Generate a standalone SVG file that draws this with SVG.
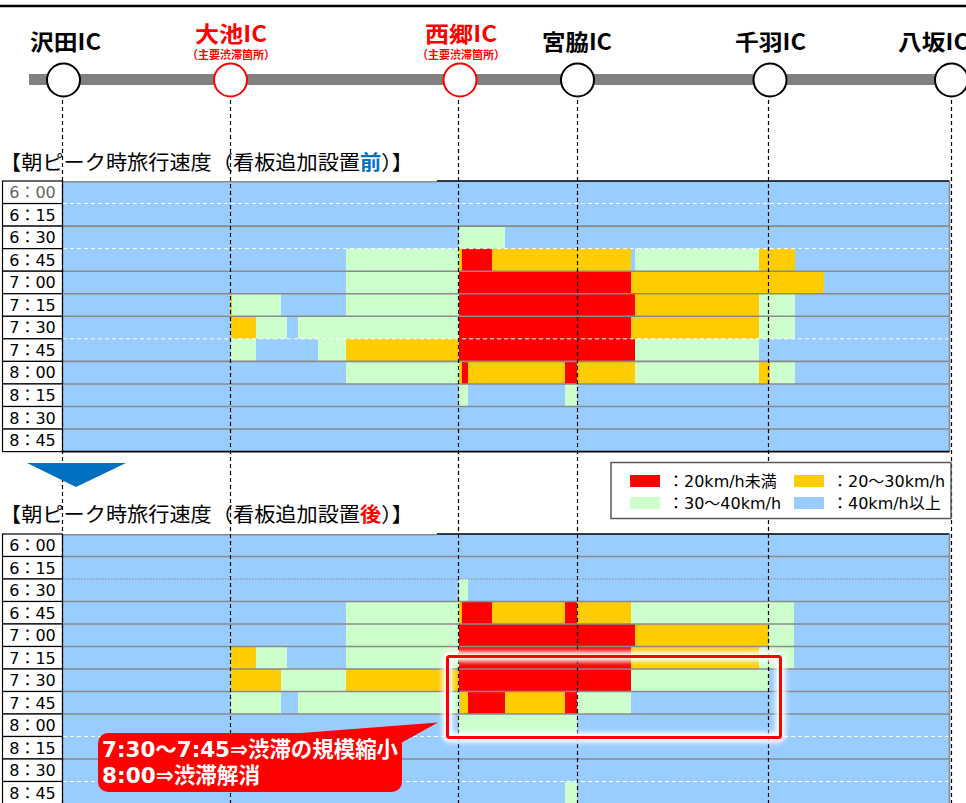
<svg xmlns="http://www.w3.org/2000/svg" width="966" height="803" viewBox="0 0 966 803">
<defs>
<style>
.b{fill:#99CCFF}.g{fill:#CCFFCC}.y{fill:#FFCC00}.r{fill:#FF0000}
.ic{font-family:"Noto Sans CJK JP",sans-serif;font-weight:bold;font-size:22px;text-anchor:middle}
.sub{font-family:"Noto Sans CJK JP",sans-serif;font-weight:bold;font-size:11.5px;fill:#FF0000;text-anchor:middle}
.node{fill:#fff;stroke:#000;stroke-width:2}
.node.red{stroke:#FF0000}
.vl{stroke:#000;stroke-width:1.2;stroke-dasharray:4 3;fill:none}
.sep{stroke:#8a8a8a;stroke-width:1.6}
.sepw{stroke:#fff;stroke-width:1;stroke-dasharray:4 3}
.cell{fill:#fff;stroke:#000;stroke-width:1.2}
.tm{font-family:"DejaVu Sans","Noto Sans CJK JP",sans-serif;font-size:16px;text-anchor:middle;fill:#000}
.ttl{font-family:"Noto Sans CJK JP",sans-serif;font-size:20px;fill:#000}
.lg{font-family:"DejaVu Sans","Noto Sans CJK JP",sans-serif;font-size:16px;fill:#000}
.co{font-family:"DejaVu Sans","Noto Sans CJK JP",sans-serif;font-weight:bold;font-size:22px;fill:#fff}
</style>
<filter id="glow" x="-10%" y="-30%" width="120%" height="160%"><feGaussianBlur stdDeviation="2.5"/></filter>
</defs>
<rect width="966" height="803" fill="#fff"/>
<line x1="0" y1="6" x2="966" y2="6" stroke="#000" stroke-width="2.5"/>
<rect x="29" y="74" width="937" height="11" fill="#808080"/>

<!-- Top chart -->
<g id="chart-before">
<rect class="b" x="63" y="181" width="886" height="270.6"/>
<rect class="g" x="459" y="226.1" width="46" height="22.55"/>
<g transform="translate(0,248.65)">
<rect class="g" x="346" y="0" width="113" height="22.55"/><rect class="y" x="459" y="0" width="3" height="22.55"/><rect class="r" x="462" y="0" width="30" height="22.55"/><rect class="y" x="492" y="0" width="139" height="22.55"/><rect class="g" x="635" y="0" width="124" height="22.55"/><rect class="y" x="759" y="0" width="36" height="22.55"/>
</g>
<g transform="translate(0,271.2)">
<rect class="g" x="346" y="0" width="113" height="22.55"/><rect class="r" x="459" y="0" width="172" height="22.55"/><rect class="y" x="631" y="0" width="193" height="22.55"/>
</g>
<g transform="translate(0,293.75)">
<rect class="y" x="230" y="0" width="2" height="22.55"/><rect class="g" x="232" y="0" width="49" height="22.55"/><rect class="g" x="346" y="0" width="113" height="22.55"/><rect class="r" x="459" y="0" width="176" height="22.55"/><rect class="y" x="635" y="0" width="124" height="22.55"/><rect class="g" x="759" y="0" width="36" height="22.55"/>
</g>
<g transform="translate(0,316.3)">
<rect class="y" x="231" y="0" width="25" height="22.55"/><rect class="g" x="256" y="0" width="31" height="22.55"/><rect class="g" x="298" y="0" width="161" height="22.55"/><rect class="r" x="459" y="0" width="172" height="22.55"/><rect class="y" x="631" y="0" width="128" height="22.55"/><rect class="g" x="759" y="0" width="36" height="22.55"/>
</g>
<g transform="translate(0,338.85)">
<rect class="g" x="231" y="0" width="25" height="22.55"/><rect class="g" x="318" y="0" width="28" height="22.55"/><rect class="y" x="346" y="0" width="113" height="22.55"/><rect class="r" x="459" y="0" width="176" height="22.55"/><rect class="g" x="635" y="0" width="124" height="22.55"/>
</g>
<g transform="translate(0,361.4)">
<rect class="g" x="346" y="0" width="113" height="22.55"/><rect class="y" x="459" y="0" width="3" height="22.55"/><rect class="r" x="462" y="0" width="6" height="22.55"/><rect class="y" x="468" y="0" width="97" height="22.55"/><rect class="r" x="565" y="0" width="12" height="22.55"/><rect class="y" x="577" y="0" width="58" height="22.55"/><rect class="g" x="635" y="0" width="124" height="22.55"/><rect class="y" x="759" y="0" width="11" height="22.55"/><rect class="g" x="770" y="0" width="25" height="22.55"/>
</g>
<g transform="translate(0,383.95)">
<rect class="g" x="459" y="0" width="9" height="22.55"/><rect class="g" x="565" y="0" width="12" height="22.55"/>
</g>
<line class="sepw" x1="63" y1="203.55" x2="949" y2="203.55"/>
<line class="sep" x1="63" y1="226.1" x2="949" y2="226.1"/>
<line class="sepw" x1="63" y1="248.65" x2="949" y2="248.65"/>
<line class="sep" x1="63" y1="271.2" x2="949" y2="271.2"/>
<line class="sep" x1="63" y1="293.75" x2="949" y2="293.75"/>
<line class="sep" x1="63" y1="316.3" x2="949" y2="316.3"/>
<line class="sepw" x1="63" y1="338.85" x2="949" y2="338.85"/>
<line class="sep" x1="63" y1="361.4" x2="949" y2="361.4"/>
<line class="sep" x1="63" y1="383.95" x2="949" y2="383.95"/>
<line class="sep" x1="63" y1="406.5" x2="949" y2="406.5"/>
<line class="sep" x1="63" y1="429.05" x2="949" y2="429.05"/>
<line x1="62" y1="181.8" x2="437" y2="181.8" stroke="#8a8a8a" stroke-width="1.6"/>
<line x1="437" y1="181" x2="949.5" y2="181" stroke="#000" stroke-width="1.6"/>
<line x1="949.5" y1="181" x2="949.5" y2="451.6" stroke="#8a8a8a" stroke-width="1.6"/>
<line x1="62" y1="451.6" x2="949.5" y2="451.6" stroke="#000" stroke-width="1.6"/>
<g>
<rect class="cell" x="2.5" y="181" width="60" height="22.55"/><rect class="cell" x="2.5" y="203.55" width="60" height="22.55"/><rect class="cell" x="2.5" y="226.1" width="60" height="22.55"/><rect class="cell" x="2.5" y="248.65" width="60" height="22.55"/><rect class="cell" x="2.5" y="271.2" width="60" height="22.55"/><rect class="cell" x="2.5" y="293.75" width="60" height="22.55"/><rect class="cell" x="2.5" y="316.3" width="60" height="22.55"/><rect class="cell" x="2.5" y="338.85" width="60" height="22.55"/><rect class="cell" x="2.5" y="361.4" width="60" height="22.55"/><rect class="cell" x="2.5" y="383.95" width="60" height="22.55"/><rect class="cell" x="2.5" y="406.5" width="60" height="22.55"/><rect class="cell" x="2.5" y="429.05" width="60" height="22.55"/>
<text class="tm" x="32.5" y="198" style="fill:#666">6：00</text>
<text class="tm" x="32.5" y="220.5">6：15</text>
<text class="tm" x="32.5" y="243">6：30</text>
<text class="tm" x="32.5" y="265.6">6：45</text>
<text class="tm" x="32.5" y="288.2">7：00</text>
<text class="tm" x="32.5" y="310.7">7：15</text>
<text class="tm" x="32.5" y="333.3">7：30</text>
<text class="tm" x="32.5" y="355.8">7：45</text>
<text class="tm" x="32.5" y="378.4">8：00</text>
<text class="tm" x="32.5" y="400.9">8：15</text>
<text class="tm" x="32.5" y="423.5">8：30</text>
<text class="tm" x="32.5" y="446">8：45</text>
</g>
</g>

<!-- Bottom chart -->
<g id="chart-after">
<rect class="b" x="63" y="534" width="886" height="270"/>
<rect class="g" x="459" y="579" width="9" height="22.5"/>
<g transform="translate(0,601.5)">
<rect class="g" x="346" y="0" width="113" height="22.5"/><rect class="y" x="459" y="0" width="3" height="22.5"/><rect class="r" x="462" y="0" width="30" height="22.5"/><rect class="y" x="492" y="0" width="73" height="22.5"/><rect class="r" x="565" y="0" width="12" height="22.5"/><rect class="y" x="577" y="0" width="54" height="22.5"/><rect class="g" x="631" y="0" width="163" height="22.5"/>
</g>
<g transform="translate(0,624)">
<rect class="g" x="346" y="0" width="113" height="22.5"/><rect class="r" x="459" y="0" width="176" height="22.5"/><rect class="y" x="635" y="0" width="134" height="22.5"/><rect class="g" x="769" y="0" width="25" height="22.5"/>
</g>
<g transform="translate(0,646.5)">
<rect class="y" x="231" y="0" width="25" height="22.5"/><rect class="g" x="256" y="0" width="31" height="22.5"/><rect class="g" x="346" y="0" width="113" height="22.5"/><rect class="r" x="459" y="0" width="172" height="22.5"/><rect class="y" x="631" y="0" width="128" height="22.5"/><rect class="g" x="759" y="0" width="35" height="22.5"/>
</g>
<g transform="translate(0,669)">
<rect class="y" x="231" y="0" width="50" height="22.5"/><rect class="g" x="281" y="0" width="65" height="22.5"/><rect class="y" x="346" y="0" width="113" height="22.5"/><rect class="r" x="459" y="0" width="172" height="22.5"/><rect class="g" x="631" y="0" width="138" height="22.5"/>
</g>
<g transform="translate(0,691.5)">
<rect class="g" x="231" y="0" width="50" height="22.5"/><rect class="g" x="298" y="0" width="161" height="22.5"/><rect class="y" x="460" y="0" width="8" height="22.5"/><rect class="r" x="468" y="0" width="37" height="22.5"/><rect class="y" x="505" y="0" width="60" height="22.5"/><rect class="r" x="565" y="0" width="12" height="22.5"/><rect class="g" x="577" y="0" width="54" height="22.5"/>
</g>
<rect class="g" x="459" y="714" width="118" height="22.5"/>
<rect class="g" x="565" y="781.5" width="12" height="22.5"/>
<line class="sep" x1="63" y1="556.5" x2="949" y2="556.5"/>
<line x1="63" y1="579" x2="949" y2="579" stroke="#8a8a8a" stroke-width="1" stroke-dasharray="1.5 1.5"/>
<line class="sep" x1="63" y1="601.5" x2="949" y2="601.5"/>
<line class="sep" x1="63" y1="624" x2="949" y2="624"/>
<line class="sep" x1="63" y1="646.5" x2="949" y2="646.5"/>
<line class="sep" x1="63" y1="669" x2="949" y2="669"/>
<line class="sep" x1="63" y1="691.5" x2="949" y2="691.5"/>
<line class="sep" x1="63" y1="714" x2="949" y2="714"/>
<line class="sepw" x1="63" y1="736.5" x2="949" y2="736.5"/>
<line class="sep" x1="63" y1="759" x2="949" y2="759"/>
<line class="sepw" x1="63" y1="781.5" x2="949" y2="781.5"/>
<line x1="62" y1="534.8" x2="437" y2="534.8" stroke="#8a8a8a" stroke-width="1.6"/>
<line x1="437" y1="534" x2="949.5" y2="534" stroke="#000" stroke-width="1.6"/>
<line x1="949.5" y1="534" x2="949.5" y2="803" stroke="#8a8a8a" stroke-width="1.6"/>
<g>
<rect class="cell" x="2.5" y="534" width="60" height="22.5"/><rect class="cell" x="2.5" y="556.5" width="60" height="22.5"/><rect class="cell" x="2.5" y="579" width="60" height="22.5"/><rect class="cell" x="2.5" y="601.5" width="60" height="22.5"/><rect class="cell" x="2.5" y="624" width="60" height="22.5"/><rect class="cell" x="2.5" y="646.5" width="60" height="22.5"/><rect class="cell" x="2.5" y="669" width="60" height="22.5"/><rect class="cell" x="2.5" y="691.5" width="60" height="22.5"/><rect class="cell" x="2.5" y="714" width="60" height="22.5"/><rect class="cell" x="2.5" y="736.5" width="60" height="22.5"/><rect class="cell" x="2.5" y="759" width="60" height="22.5"/><rect class="cell" x="2.5" y="781.5" width="60" height="22.5"/>
<text class="tm" x="32.5" y="551">6：00</text>
<text class="tm" x="32.5" y="573.5">6：15</text>
<text class="tm" x="32.5" y="596">6：30</text>
<text class="tm" x="32.5" y="618.5">6：45</text>
<text class="tm" x="32.5" y="641">7：00</text>
<text class="tm" x="32.5" y="663.5">7：15</text>
<text class="tm" x="32.5" y="686">7：30</text>
<text class="tm" x="32.5" y="708.5">7：45</text>
<text class="tm" x="32.5" y="731">8：00</text>
<text class="tm" x="32.5" y="753.5">8：15</text>
<text class="tm" x="32.5" y="776">8：30</text>
<text class="tm" x="32.5" y="798.5">8：45</text>
</g>
</g>

<!-- IC guide lines -->
<g id="connectors">
<line class="vl" x1="62.5" y1="100" x2="62.5" y2="803"/>
<line class="vl" x1="230.5" y1="100" x2="230.5" y2="803"/>
<line class="vl" x1="458.5" y1="100" x2="458.5" y2="803"/>
<line class="vl" x1="577.5" y1="100" x2="577.5" y2="803"/>
<line class="vl" x1="768.5" y1="100" x2="768.5" y2="803"/>
<line class="vl" x1="951.5" y1="100" x2="951.5" y2="803"/>
</g>

<!-- IC nodes -->
<g id="ic-sawada"><circle class="node" cx="63.5" cy="80" r="16.5"/><text class="ic" x="65.5" y="50" textLength="71" lengthAdjust="spacingAndGlyphs">沢田IC</text></g>
<g id="ic-oike"><circle class="node red" cx="230.5" cy="80" r="16.5"/><text class="ic" x="231" y="42" fill="#FF0000" textLength="72" lengthAdjust="spacingAndGlyphs">大池IC</text><text class="sub" x="231" y="59" textLength="88" lengthAdjust="spacingAndGlyphs">（主要渋滞箇所）</text></g>
<g id="ic-saigo"><circle class="node red" cx="460" cy="80" r="16.5"/><text class="ic" x="461" y="42" fill="#FF0000" textLength="72" lengthAdjust="spacingAndGlyphs">西郷IC</text><text class="sub" x="461" y="59" textLength="88" lengthAdjust="spacingAndGlyphs">（主要渋滞箇所）</text></g>
<g id="ic-miyawaki"><circle class="node" cx="577.5" cy="80" r="16.5"/><text class="ic" x="577" y="50" textLength="70" lengthAdjust="spacingAndGlyphs">宮脇IC</text></g>
<g id="ic-senba"><circle class="node" cx="770" cy="80" r="16.5"/><text class="ic" x="770.5" y="50" textLength="71" lengthAdjust="spacingAndGlyphs">千羽IC</text></g>
<g id="ic-yasaka"><circle class="node" cx="951.5" cy="80" r="16.5"/><text class="ic" x="898" y="50" style="text-anchor:start" textLength="71" lengthAdjust="spacingAndGlyphs">八坂IC</text></g>

<!-- Titles -->
<text class="ttl" x="0" y="170" textLength="413" lengthAdjust="spacingAndGlyphs">【朝ピーク時旅行速度（看板追加設置<tspan font-weight="bold" fill="#0070C0">前</tspan>）】</text>
<polygon points="27,463 126,463 76,487" fill="#0070C0"/>
<text class="ttl" x="0" y="522" textLength="413" lengthAdjust="spacingAndGlyphs">【朝ピーク時旅行速度（看板追加設置<tspan font-weight="bold" fill="#FF0000">後</tspan>）】</text>

<!-- Legend -->
<g id="legend">
<rect x="611" y="462.5" width="340" height="56" fill="#fff" stroke="#595959" stroke-width="1.5"/>
<rect class="r" x="630" y="475" width="30" height="12"/>
<text class="lg" x="668" y="487">：20km/h未満</text>
<rect class="y" x="794" y="475" width="30" height="12"/>
<text class="lg" x="832" y="487">：20～30km/h</text>
<rect class="g" x="630" y="497" width="30" height="12"/>
<text class="lg" x="668" y="509">：30～40km/h</text>
<rect class="b" x="794" y="497" width="30" height="12"/>
<text class="lg" x="832" y="509">：40km/h以上</text>
</g>

<!-- Highlight box -->
<g id="highlight">
<rect x="447.5" y="656.5" width="333" height="81" rx="2" fill="none" stroke="#fff" stroke-width="10" filter="url(#glow)"/>
<rect x="447.5" y="656.5" width="333" height="81" rx="2" fill="none" stroke="#FF0000" stroke-width="3"/>
</g>

<!-- Callout -->
<g id="callout">
<rect x="98" y="733" width="304" height="59" rx="10" fill="#FF0000"/>
<polygon points="288,734 438,722.5 401,743" fill="#FF0000"/>
<text class="co" x="102" y="757" textLength="296" lengthAdjust="spacingAndGlyphs">7:30～7:45⇒渋滞の規模縮小</text>
<text class="co" x="102" y="783" textLength="158" lengthAdjust="spacingAndGlyphs">8:00⇒渋滞解消</text>
</g>
</svg>
